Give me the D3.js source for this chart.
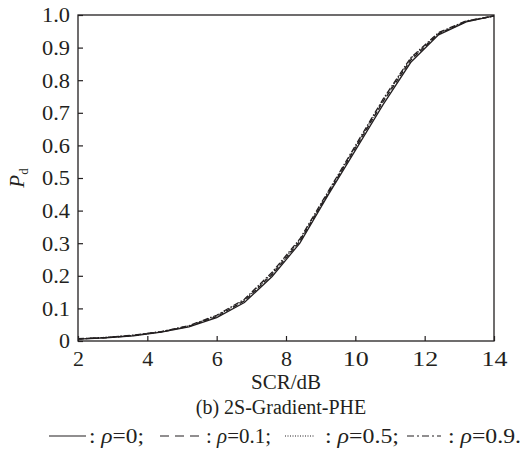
<!DOCTYPE html>
<html>
<head>
<meta charset="utf-8">
<script src="https://cdn.jsdelivr.net/npm/d3@7"></script>
<style>
  body { margin: 0; background: #fff; }
  svg text { font-family: "Liberation Serif", "Times New Roman", serif; fill: #231f20; }
</style>
</head>
<body>
<div id="chart"></div>
<script>
// SCR values (dB)
const scr = [2.0, 2.8, 3.6, 4.4, 5.2, 6.0, 6.8, 7.6, 8.4, 9.2, 10.0, 10.8, 11.6, 12.4, 13.2, 14.0];
// detection probability for each rho
const pdRho0  = [0.006, 0.010, 0.016, 0.027, 0.043, 0.072, 0.118, 0.198, 0.300, 0.445, 0.585, 0.725, 0.855, 0.939, 0.979, 0.997];
const pdRho01 = [0.006, 0.010, 0.017, 0.028, 0.045, 0.075, 0.123, 0.204, 0.306, 0.450, 0.592, 0.734, 0.862, 0.942, 0.980, 0.997];
const pdRho05 = [0.006, 0.011, 0.017, 0.028, 0.046, 0.077, 0.125, 0.207, 0.309, 0.452, 0.595, 0.738, 0.866, 0.944, 0.981, 0.997];
const pdRho09 = [0.007, 0.011, 0.018, 0.029, 0.047, 0.079, 0.128, 0.211, 0.313, 0.456, 0.599, 0.742, 0.869, 0.946, 0.982, 0.997];
const xTicks = [2, 4, 6, 8, 10, 12, 14];
const yTicks = [0, 0.1, 0.2, 0.3, 0.4, 0.5, 0.6, 0.7, 0.8, 0.9, 1.0];
const yTickLabels = ["0", "0.1", "0.2", "0.3", "0.4", "0.5", "0.6", "0.7", "0.8", "0.9", "1.0"];
const legendLabels = ["0;", "0.1;", "0.5;", "0.9."];

const W = 528, H = 449;
const m = { left: 78, right: 494, top: 15, bottom: 341 };
const ink = '#231f20';

const svg = d3.select('#chart').append('svg')
    .attr('width', W).attr('height', H);

const x = d3.scaleLinear().domain([2, 14]).range([m.left, m.right]);
const y = d3.scaleLinear().domain([0, 1]).range([m.bottom, m.top]);

// frame
svg.append('rect')
    .attr('x', m.left).attr('y', m.top)
    .attr('width', m.right - m.left).attr('height', m.bottom - m.top)
    .attr('fill', 'none').attr('stroke', ink).attr('stroke-width', 1.3);

// axes with inward ticks
const xAxis = svg.append('g')
    .attr('transform', `translate(0,${m.bottom})`)
    .call(d3.axisBottom(x).tickValues(xTicks).tickSizeInner(-5).tickSizeOuter(0));
const yAxis = svg.append('g')
    .attr('transform', `translate(${m.left},0)`)
    .call(d3.axisLeft(y).tickValues(yTicks).tickSizeInner(-5).tickSizeOuter(0)
        .tickFormat((d, i) => yTickLabels[i]));
[xAxis, yAxis].forEach(g => {
    g.attr('font-family', null).attr('font-size', null);
    g.select('.domain').remove();
    g.selectAll('line').attr('stroke', ink).attr('stroke-width', 1.2);
    g.selectAll('text').attr('font-size', 20).attr('fill', ink)
        .attr('lengthAdjust', 'spacingAndGlyphs');
});
xAxis.selectAll('text')
    .attr('y', 25).attr('dy', 0)
    .attr('textLength', d => d >= 10 ? 26 : 11);
yAxis.selectAll('text')
    .attr('x', -8).attr('dy', '0.34em')
    .attr('textLength', d => d === 0 ? 11 : 28);

// series
const series = [
    { vals: pdRho0,  dash: null,        legendDash: null },
    { vals: pdRho01, dash: '5,3',       legendDash: '9,6' },
    { vals: pdRho05, dash: '1,1.5',     legendDash: '1,1.5' },
    { vals: pdRho09, dash: '6,2,1.5,2', legendDash: '7,3,2,3' }
];
const line = d3.line().x(d => x(d[0])).y(d => y(d[1]));
series.forEach(s => {
    svg.append('path')
        .datum(scr.map((v, i) => [v, s.vals[i]]))
        .attr('d', line)
        .attr('fill', 'none')
        .attr('stroke', ink)
        .attr('stroke-width', 1.3)
        .attr('stroke-dasharray', s.dash);
});

// axis labels
svg.append('text')
    .attr('x', 286).attr('y', 389)
    .attr('text-anchor', 'middle').attr('font-size', 21)
    .text('SCR/dB');

const yl = svg.append('text')
    .attr('transform', `translate(24,178) rotate(-90)`)
    .attr('text-anchor', 'middle').attr('font-size', 21);
yl.append('tspan').attr('font-style', 'italic').text('P');
yl.append('tspan').attr('font-size', 13).attr('dy', 4).text('d');

svg.append('text')
    .attr('x', 281).attr('y', 414)
    .attr('text-anchor', 'middle').attr('font-size', 20)
    .text('(b) 2S-Gradient-PHE');

// legend
const legendPos = [
    { x1: 49, x2: 86, tx: 89, len: 55 },
    { x1: 160, x2: 200, tx: 206, len: 65 },
    { x1: 285, x2: 315, tx: 325, len: 74 },
    { x1: 407, x2: 441, tx: 448, len: 73 }
];
const ly = 436;
legendPos.forEach((l, i) => {
    svg.append('line')
        .attr('x1', l.x1).attr('x2', l.x2).attr('y1', ly).attr('y2', ly)
        .attr('stroke', ink).attr('stroke-width', 1.2)
        .attr('stroke-dasharray', series[i].legendDash);
    const t = svg.append('text').attr('x', l.tx).attr('y', ly + 7).attr('font-size', 20)
        .attr('textLength', l.len).attr('lengthAdjust', 'spacingAndGlyphs');
    t.append('tspan').text(': ');
    t.append('tspan').attr('font-style', 'italic').text('ρ');
    t.append('tspan').text('=' + legendLabels[i]);
});
</script>
</body>
</html>
